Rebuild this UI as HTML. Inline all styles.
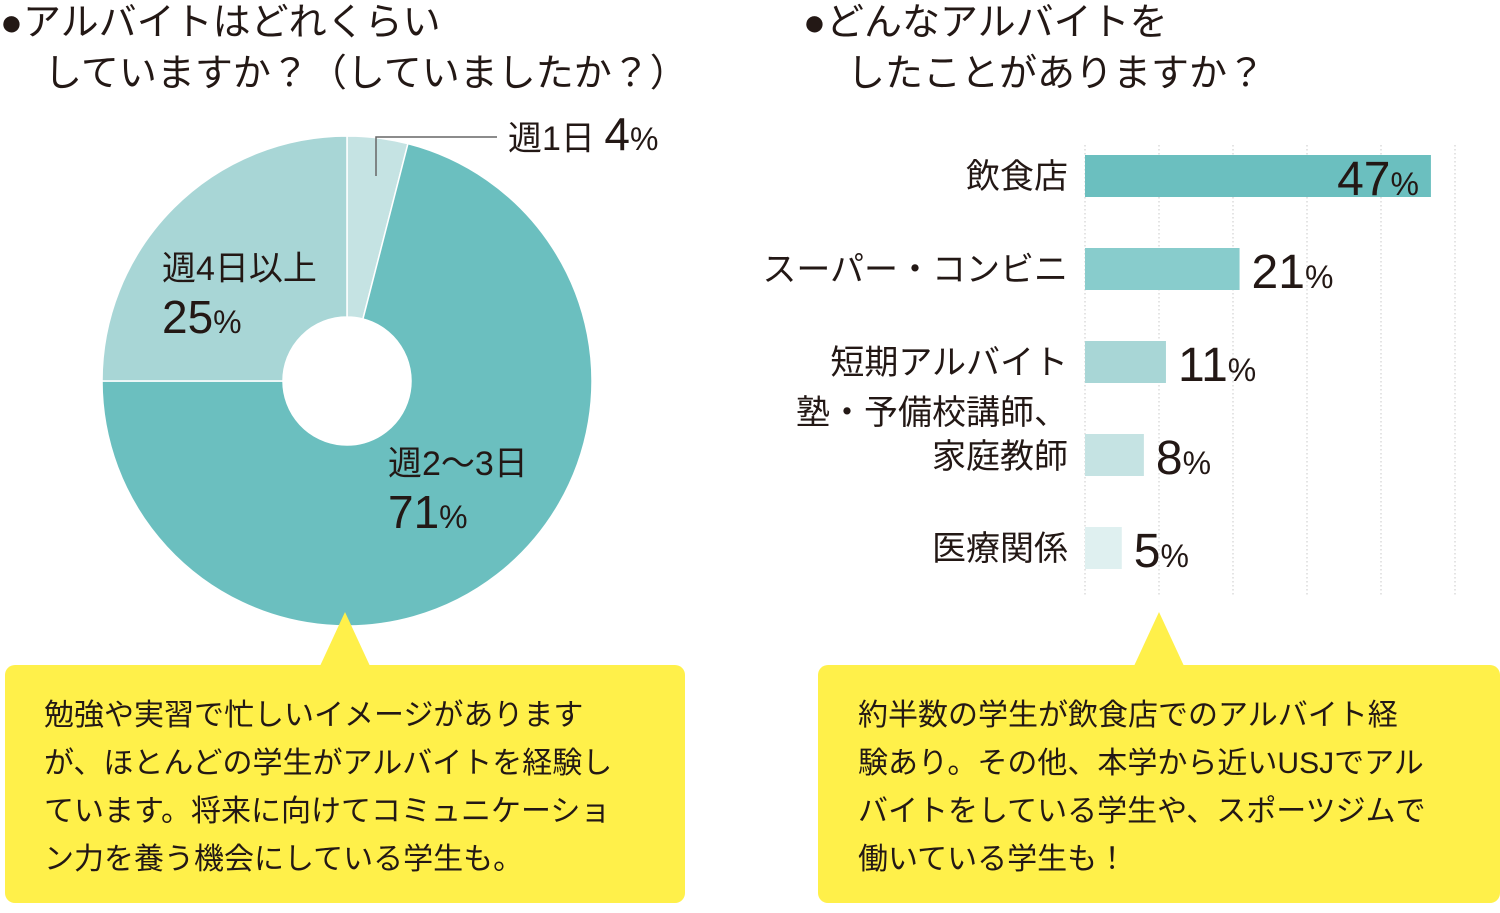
<!DOCTYPE html>
<html><head><meta charset="utf-8"><style>
body{margin:0;width:1500px;height:908px;background:#fff;overflow:hidden;font-family:"Liberation Sans","Noto Sans CJK JP",sans-serif;color:#231815}
svg text{font-family:"Liberation Sans","Noto Sans CJK JP",sans-serif;fill:#231815}
</style></head><body>
<svg width="1500" height="908">
<g font-size="38">
<text x="0" y="35">●アルバイトはどれくらい</text>
<text x="44" y="86">していますか？（していましたか？）</text>
</g>
<g font-size="38">
<text x="803" y="35">●どんなアルバイトを</text>
<text x="847" y="86">したことがありますか？</text>
</g>
<g id="donut"></g>
<g>
<path d="M376 176 V137 H497" fill="none" stroke="#666" stroke-width="1.5"/>
<text x="508" y="150" font-size="34">週1日 <tspan font-size="46">4</tspan><tspan font-size="32">%</tspan></text>
<text x="162" y="280" font-size="34">週4日以上</text>
<text x="162" y="333" font-size="46">25<tspan font-size="32">%</tspan></text>
<text x="388" y="475" font-size="34">週2〜3日</text>
<text x="388" y="528" font-size="46">71<tspan font-size="32">%</tspan></text>
</g>
<g id="bars"></g>
<g>
<path d="M320 666 L345 612 L370 666 Z" fill="#fff04a"/>
<rect x="5" y="665" width="680" height="238" rx="10" fill="#fff04a"/>
<g font-size="30">
<text x="44" y="725">勉強や実習で忙しいイメージがあります</text>
<text x="44" y="773">が、ほとんどの学生がアルバイトを経験し</text>
<text x="44" y="821">ています。将来に向けてコミュニケーショ</text>
<text x="44" y="869">ン力を養う機会にしている学生も。</text>
</g></g>
<g>
<path d="M1134 666 L1159 612 L1184 666 Z" fill="#fff04a"/>
<rect x="818" y="665" width="682" height="238" rx="10" fill="#fff04a"/>
<g font-size="30">
<text x="858" y="725">約半数の学生が飲食店でのアルバイト経</text>
<text x="858" y="773">験あり。その他、本学から近いUSJでアル</text>
<text x="858" y="821">バイトをしている学生や、スポーツジムで</text>
<text x="858" y="869">働いている学生も！</text>
</g></g>
</svg>
<script>
const NS="http://www.w3.org/2000/svg";
const donutNames=["week-1","week-2-3","week-4-plus"];
const donutValues=[4,71,25];
const donutColors=["#c5e3e3","#6bbfbf","#a8d6d6"];
const barCategories=["飲食店","スーパー・コンビニ","短期アルバイト","塾・予備校講師、|家庭教師","医療関係"];
const barValues=[47,21,11,8,5];
const barColors=["#6bbfbf","#88cccc","#a8d6d6","#c5e3e3","#dff0f0"];
const gridTicks=[0,10,20,30,40,50];

const cx=347,cy=381,R=245,r=64;
const dg=document.getElementById("donut");
const tot=donutValues.reduce((a,b)=>a+b,0);
let acc=0;
function pt(rad,f){const a=f*2*Math.PI-Math.PI/2;return [cx+rad*Math.cos(a),cy+rad*Math.sin(a)];}
donutValues.forEach((v,i)=>{
 const f0=acc/tot,f1=(acc+v)/tot;acc+=v;
 const [x0,y0]=pt(R,f0),[x1,y1]=pt(R,f1),[x2,y2]=pt(r,f1),[x3,y3]=pt(r,f0);
 const lg=(f1-f0)>0.5?1:0;
 const p=document.createElementNS(NS,"path");
 p.setAttribute("d",`M${x0} ${y0} A${R} ${R} 0 ${lg} 1 ${x1} ${y1} L${x2} ${y2} A${r} ${r} 0 ${lg} 0 ${x3} ${y3} Z`);
 p.setAttribute("fill",donutColors[i]);p.setAttribute("stroke","#fff");p.setAttribute("stroke-width","1.5");
 
 
 dg.appendChild(p);
});

const bg=document.getElementById("bars");
const x0=1085,scale=7.36,yTop=155,step=93,bh=42;
const xs=v=>x0+v*scale;
gridTicks.forEach(t=>{
 const l=document.createElementNS(NS,"line");
 const x=x0+t*7.4;
 l.setAttribute("x1",x);l.setAttribute("x2",x);l.setAttribute("y1",145);l.setAttribute("y2",596);
 l.setAttribute("stroke","#c8c8c8");l.setAttribute("stroke-dasharray","1.5 2.5");l.setAttribute("stroke-width","1");
 
 
 bg.appendChild(l);
});
barValues.forEach((v,i)=>{
 const y=yTop+i*step;
 const rc=document.createElementNS(NS,"rect");
 rc.setAttribute("x",x0);rc.setAttribute("y",y);rc.setAttribute("width",xs(v)-x0);rc.setAttribute("height",bh);rc.setAttribute("fill",barColors[i]);
 
 
 bg.appendChild(rc);
 const lines=barCategories[i].split("|");
 lines.forEach((s,j)=>{
  const t=document.createElementNS(NS,"text");
  t.setAttribute("x",1068);t.setAttribute("text-anchor","end");t.setAttribute("font-size","34");
  const by=lines.length>1?y+12+(j-0.5)*44:y+33;
  t.setAttribute("y",by);t.textContent=s;
  
  
  bg.appendChild(t);
 });
 const vt=document.createElementNS(NS,"text");
 const inside=v>40;
 vt.setAttribute("x",inside?xs(v)-12:xs(v)+12);
 vt.setAttribute("text-anchor",inside?"end":"start");
 vt.setAttribute("y",y+40);vt.setAttribute("font-size","48");
 vt.innerHTML=v+'<tspan font-size="32">%</tspan>';
 
 
 bg.appendChild(vt);
});
</script>
</body></html>
